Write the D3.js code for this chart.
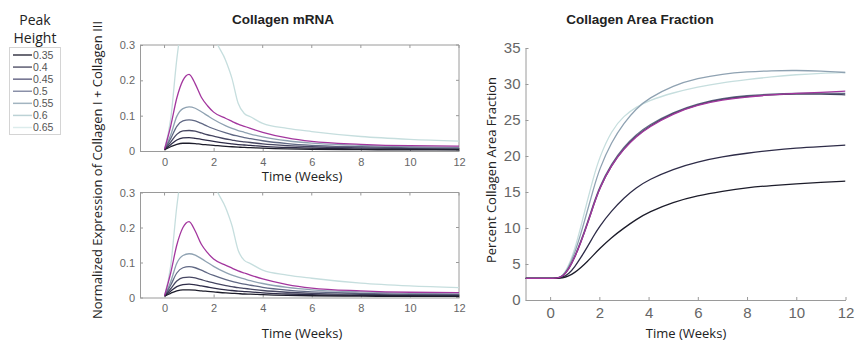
<!DOCTYPE html>
<html><head><meta charset="utf-8">
<script src="https://cdn.jsdelivr.net/npm/d3@7"></script>
<style>
body{margin:0;background:#fff;}
svg{font-family:"Liberation Sans",Arial,Helvetica,sans-serif;}
</style></head>
<body><svg id="c" width="856" height="345"></svg>
<script>
// ---------- DATA ----------
const peakHeights = ["0.35","0.4","0.45","0.5","0.55","0.6","0.65"];
const legendColors = ["#3a3a48","#5c5c72","#6c6c8a","#8a90a8","#a2b4c0","#bcd2d6","#dcecec"];
const lineColors   = ["#1c1c2a","#2e2c48","#464662","#606884","#8fa2b2","#a3369e","#c6dede"];

const mrnaTime = [0,0.25,0.5,0.75,1,1.25,1.5,1.75,2,2.5,2.75,3,3.25,3.5,4,5,6,8,10,12];
const mrna035 = [0.004,0.012,0.019,0.022,0.022,0.021,0.019,0.0175,0.016,0.013,0.012,0.011,0.010,0.0095,0.008,0.006,0.005,0.004,0.003,0.003];
const mrna040 = [0.004,0.018,0.031,0.037,0.038,0.036,0.033,0.030,0.027,0.022,0.020,0.018,0.017,0.016,0.013,0.010,0.008,0.006,0.005,0.004];
const mrna045 = [0.004,0.025,0.047,0.057,0.058,0.056,0.051,0.046,0.042,0.034,0.031,0.028,0.026,0.024,0.020,0.015,0.012,0.009,0.007,0.006];
const mrna050 = [0.005,0.035,0.070,0.085,0.088,0.085,0.078,0.070,0.063,0.051,0.046,0.042,0.038,0.035,0.029,0.021,0.016,0.012,0.009,0.008];
const mrna055 = [0.005,0.045,0.098,0.120,0.125,0.121,0.111,0.100,0.089,0.071,0.064,0.058,0.053,0.048,0.040,0.029,0.022,0.016,0.012,0.010];
const mrna060 = [0.005,0.070,0.150,0.200,0.217,0.190,0.152,0.128,0.110,0.092,0.084,0.076,0.070,0.064,0.053,0.037,0.027,0.019,0.015,0.014];
const mrna065 = [0.005,0.090,0.260,0.380,0.450,0.470,0.450,0.400,0.330,0.255,0.205,0.135,0.106,0.097,0.078,0.064,0.055,0.041,0.033,0.028];

const areaTime = [-1,0,0.25,0.5,0.75,1,1.25,1.5,1.75,2,2.5,3,3.5,4,5,6,7,8,9,10,11,12];
const area035 = [3,3,3,3.05,3.3,3.8,4.5,5.3,6.2,7.1,8.7,10.0,11.2,12.2,13.6,14.5,15.1,15.6,15.9,16.15,16.35,16.5];
const area040 = [3,3,3,3.1,3.6,4.6,5.9,7.3,8.8,10.2,12.4,14.2,15.6,16.7,18.2,19.2,19.9,20.4,20.8,21.1,21.3,21.5];
const area045 = [3,3,3,3.2,4.2,5.9,8.0,10.4,13.0,15.5,18.8,21.1,22.8,24.1,26.0,27.2,27.9,28.3,28.5,28.6,28.6,28.5];
const area050 = [3,3,3,3.2,4.3,6.0,8.2,10.6,13.2,15.7,19.0,21.3,23.0,24.3,26.1,27.3,28.0,28.4,28.6,28.7,28.75,28.7];
const area055 = [3,3,3,3.2,4.5,6.5,9.2,12.2,15.3,18.2,22.0,24.6,26.6,28.0,29.8,30.8,31.4,31.7,31.85,31.9,31.8,31.6];
const area060 = [3,3,3,3.2,4.2,5.9,8.0,10.4,13.0,15.5,18.8,21.0,22.7,24.0,25.9,27.1,27.8,28.2,28.5,28.7,28.85,29.0];
const area065 = [3,3,3,3.25,4.7,7.0,10.2,13.6,16.9,19.8,23.6,25.6,26.8,27.7,28.8,29.6,30.2,30.6,31.0,31.3,31.5,31.6];

const mrnaSeries = [mrna035,mrna040,mrna045,mrna050,mrna055,mrna060,mrna065];
const areaSeries = [area035,area040,area045,area050,area055,area060,area065];

const xTicks = [0,2,4,6,8,10,12];
const mrnaTicks = [0,0.1,0.2,0.3];
const areaTicks = [0,5,10,15,20,25,30,35];

// ---------- DRAW ----------
const svg = d3.select("#c");
const axisCol = "#9a9a9a", tickTextCol = "#666";

function panel(id, x0, x1, y0, y1, yDomain, yTicks, yFmt, times, series, fontSize, box, curve) {
  const x = d3.scaleLinear().domain([-1,12]).range([x0,x1]);
  const y = d3.scaleLinear().domain(yDomain).range([y1,y0]);
  const g = svg.append("g");
  g.append("clipPath").attr("id",id).append("rect")
    .attr("x",x0).attr("y",y0).attr("width",x1-x0).attr("height",y1-y0);
  const ax = g.append("g").attr("transform",`translate(0,${y1})`)
    .call(d3.axisBottom(x).tickValues(xTicks).tickSizeInner(-3).tickSizeOuter(0).tickPadding(7).tickFormat(d3.format("d")));
  const ay = g.append("g").attr("transform",`translate(${x0},0)`)
    .call(d3.axisLeft(y).tickValues(yTicks).tickSizeInner(-3).tickSizeOuter(0).tickPadding(5).tickFormat(yFmt));
  [ax,ay].forEach(a=>{
    a.select(".domain").attr("stroke",axisCol);
    a.selectAll(".tick line").attr("stroke",axisCol);
    a.selectAll("text").attr("fill",tickTextCol).style("font-size",fontSize+"px")
      .style("font-family","'Liberation Sans',Arial,sans-serif");
  });
  if (box) {
    g.append("line").attr("x1",x0).attr("x2",x1).attr("y1",y0).attr("y2",y0).attr("stroke",axisCol);
    g.append("line").attr("x1",x1).attr("x2",x1).attr("y1",y0).attr("y2",y1).attr("stroke",axisCol);
    xTicks.forEach(t=>g.append("line").attr("x1",x(t)).attr("x2",x(t)).attr("y1",y0).attr("y2",y0+3).attr("stroke",axisCol));
    yTicks.forEach(t=>g.append("line").attr("x1",x1).attr("x2",x1-3).attr("y1",y(t)).attr("y2",y(t)).attr("stroke",axisCol));
  }
  const line = d3.line().x((d,i)=>x(times[i])).y(d=>y(d)).curve(curve);
  const lg = g.append("g").attr("clip-path",`url(#${id})`);
  const order = [6,4,3,2,1,0,5];
  order.forEach(k=>{
    lg.append("path").datum(series[k]).attr("d",line)
      .attr("fill","none").attr("stroke",lineColors[k]).attr("stroke-width",1.3);
  });
  return {x,y};
}

panel("cpA",140,459,45,151,[0,0.3],mrnaTicks,d3.format(".1~f"),mrnaTime,mrnaSeries,11,true,d3.curveMonotoneX);
panel("cpB",140,459,192.5,297.5,[0,0.3],mrnaTicks,d3.format(".1~f"),mrnaTime,mrnaSeries,11,true,d3.curveMonotoneX);
panel("cpC",525.5,845.5,48,300,[0,35],areaTicks,d3.format("d"),areaTime,areaSeries,15,false,d3.curveBasis);

const txt = (x,y,s,size,opts={}) => {
  const t = svg.append("text").attr("x",x).attr("y",y).text(s)
    .style("font-size",size+"px").attr("fill",opts.fill||"#222")
    .attr("text-anchor",opts.anchor||"middle");
  if (opts.bold) t.style("font-weight","bold");
  if (opts.rot) t.attr("transform",`rotate(-90,${x},${y})`);
  if (opts.family) t.style("font-family",opts.family);
  return t;
};
txt(283,24,"Collagen mRNA",13.5,{bold:true});
txt(640,24,"Collagen Area Fraction",13.5,{bold:true});
txt(302,181,"Time (Weeks)",13,{family:"'Open Sans',sans-serif"});
txt(302,338,"Time (Weeks)",13,{family:"'Open Sans',sans-serif"});
txt(686,338,"Time (Weeks)",13,{family:"'Open Sans',sans-serif"});
txt(102,170,"Normalized Expression of Collagen I + Collagen III",13,{rot:true,family:"'Open Sans',sans-serif"});
txt(496,170,"Percent Collagen Area Fraction",13,{rot:true,family:"'Open Sans',sans-serif"});

// legend
txt(35,25,"Peak",14,{family:"'Open Sans',sans-serif"});
txt(35,43,"Height",14,{family:"'Open Sans',sans-serif"});
svg.append("rect").attr("x",9.5).attr("y",47.5).attr("width",51).attr("height",87)
  .attr("fill","#fff").attr("stroke","#d4d4d4");
const ly = d3.scalePoint().domain(peakHeights).range([55,127.5]);
peakHeights.forEach((p,i)=>{
  svg.append("line").attr("x1",13).attr("x2",32).attr("y1",ly(p)).attr("y2",ly(p))
    .attr("stroke",legendColors[i]).attr("stroke-width",1.5);
  svg.append("text").attr("x",33).attr("y",ly(p)+3.8).text(p)
    .style("font-size","10.5px").attr("fill","#555");
});
</script></body></html>
